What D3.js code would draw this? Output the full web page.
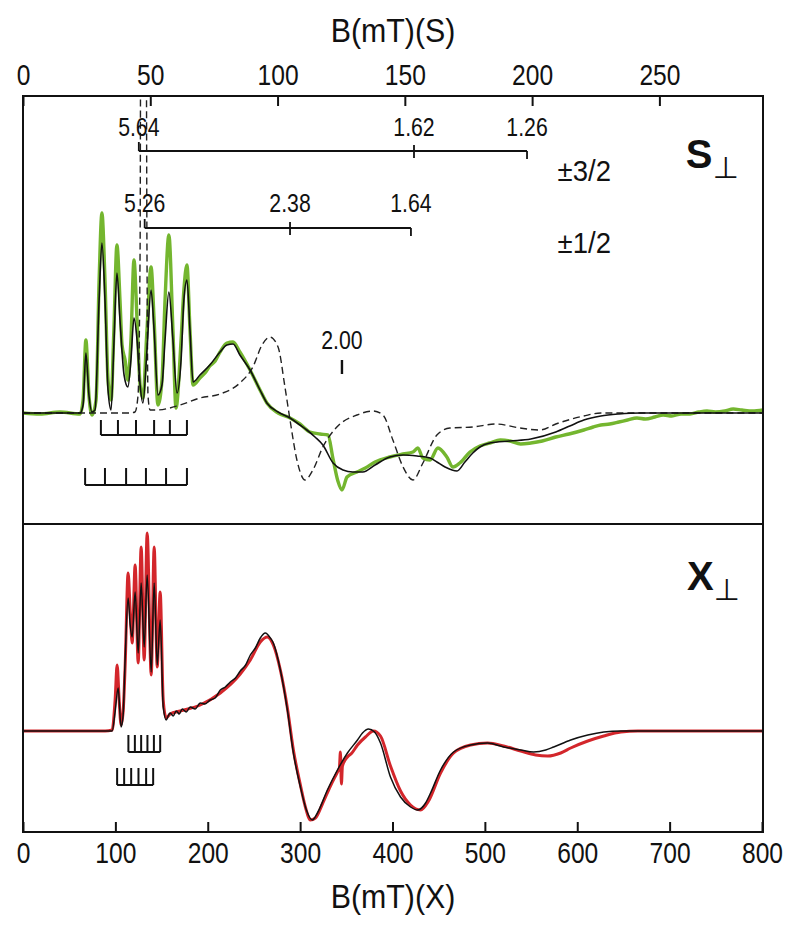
<!DOCTYPE html>
<html><head><meta charset="utf-8">
<script src="https://cdn.jsdelivr.net/npm/d3@7"></script>
<style>
body{margin:0;background:#fff}
svg text{font-family:"Liberation Sans",Arial,Helvetica,sans-serif;fill:#111}
</style></head><body>
<svg id="c" width="800" height="927"></svg>
<script>
// ---------- DATA ----------
// S-band (top panel): [B (mT, S-band scale), intensity (a.u.)]
const sTicks = [0, 50, 100, 150, 200, 250];
const xTicks = [0, 100, 200, 300, 400, 500, 600, 700, 800];

const sExp = [[0,0],[6.7,-1],[14.5,1],[22.4,-1],[23.6,13],[24.7,73],[25.9,18],[27.1,-2],[28.7,13],[29.9,133],[31.0,200],[32.2,133],[33.4,33],[34.6,13],[35.7,83],[36.9,168],[38.1,113],[38.9,68],[40.1,53],[41.2,33],[42.4,73],[43.6,153],[44.8,93],[46.0,28],[47.1,15],[48.7,83],[50.3,146],[51.5,93],[53.0,8],[54.6,33],[55.8,113],[57.3,178],[58.9,83],[60.1,5],[62.1,73],[63.2,123],[64.4,148],[65.6,83],[66.8,28],[69.5,35],[71.5,40],[73.4,47],[75.5,52],[77.4,61],[80.1,70],[82.5,71],[85.2,61],[89.2,43],[93.1,23],[95.8,10],[100.2,0],[104.9,-5],[108.8,-11],[112.7,-19],[116.7,-21],[119.8,-22],[121.8,-46],[123.7,-68],[125.3,-77],[127.3,-64],[131.2,-59],[134.5,-55],[138.3,-49],[144.1,-44],[149.3,-41],[153.2,-39],[155.1,-35],[157.1,-45],[159.9,-47],[163.0,-35],[166.5,-44],[168.9,-54],[171.6,-50],[175.6,-39],[179.5,-33],[183.4,-30],[187.5,-27],[191.3,-28],[195.5,-31],[199.5,-30],[204.0,-28],[209.3,-24],[214.5,-21],[220.3,-17],[224.0,-14],[227.0,-12],[230.5,-11],[234.1,-9],[237.5,-7],[241.2,-5],[244.5,-6],[248.2,-4],[251.5,-2],[254.9,-3],[258.5,-1],[262.0,-1],[265.5,1],[268.7,2],[272.0,1],[275.7,2],[279.0,4],[282.4,3],[286.5,2],[290.7,3]];

const sFit = [[0,0],[22.4,0],[23.6,8],[24.7,60],[25.9,18],[27.1,1],[28.3,3],[29.9,113],[31.0,170],[32.2,113],[33.4,23],[34.6,3],[35.7,68],[36.9,140],[38.1,93],[39.7,38],[41.2,26],[42.4,53],[43.6,95],[44.8,73],[46.0,28],[47.1,10],[48.7,63],[50.3,123],[51.5,83],[53.0,18],[54.6,28],[55.8,73],[57.3,121],[58.9,73],[60.5,20],[62.1,53],[63.2,113],[64.4,133],[65.6,83],[66.8,31],[69.5,38],[73.4,48],[77.4,61],[80.1,68],[82.5,69],[85.2,58],[89.2,43],[93.1,23],[95.8,10],[100.2,1],[104.9,-5],[108.8,-12],[111.5,-17],[114.7,-24],[117.8,-32],[121.8,-50],[125.7,-57],[129.6,-59],[133.5,-59],[138.3,-52],[144.1,-44],[149.3,-42],[154.8,-43],[159.9,-45],[162.6,-49],[165.8,-54],[170.5,-58],[173.6,-49],[176.7,-40],[179.5,-34],[183.4,-30],[191.3,-28],[199.5,-26],[209.3,-19],[214.8,-13],[220.3,-7],[227.0,-3],[234.1,-1],[242.3,0],[290.7,0]];

const sSim = [[0,0],[42.0,0],[44.0,1],[45.2,18],[46.0,163],[46.3,450],[48.3,450],[48.7,163],[49.1,18],[49.9,3],[52.6,3],[61.7,8],[69.5,15],[77.4,19],[85.2,30],[90.3,46],[93.9,68],[97.0,76],[100.2,66],[102.9,26],[104.9,-7],[107.6,-47],[110.8,-67],[113.9,-57],[117.8,-34],[123.3,-14],[131.2,-2],[137.5,2],[141.4,-2],[145.3,-27],[149.3,-54],[153.2,-67],[157.1,-50],[162.6,-22],[167.7,-15],[176.7,-14],[185.8,-11],[195.2,-15],[203.1,-17],[209.3,-11],[220.3,-3],[227.0,0],[290.7,0]];

// X-band (bottom panel): [B (mT), intensity (a.u.)]
const xExp = [[0,0],[88.9,0],[96.5,1],[99.7,31],[101.9,66],[104.1,31],[106.2,6],[108.4,19],[110.6,66],[113.8,158],[116.0,121],[118.2,88],[121.4,166],[124.7,68],[127.9,184],[131.2,71],[134.4,198],[138.8,56],[142.0,184],[145.3,64],[148.5,139],[151.8,31],[155.0,13],[159.3,17],[170.2,20],[191.9,26],[213.6,38],[235.2,57],[246.1,71],[256.9,89],[264.5,94],[271.0,86],[278.6,61],[286.2,23],[292.7,-19],[300.3,-54],[305.7,-76],[311.1,-89],[316.5,-87],[324.1,-73],[332.8,-55],[340.4,-41],[342.5,-37],[343.6,-21],[344.7,-53],[345.8,-35],[351.2,-26],[356.0,-22],[362.1,-14],[370.7,-6],[379.4,0],[387.0,-5],[397.8,-35],[408.7,-60],[419.5,-74],[430.4,-79],[439.0,-70],[452.0,-42],[466.1,-22],[484.6,-14],[502.9,-12],[520.3,-15],[538.8,-20],[555.0,-24],[568.0,-25],[582.1,-22],[592.9,-17],[611.4,-10],[628.7,-5],[647.2,-1],[665.6,0],[800,0]];

const xFit = [[0,0],[88.9,0],[96.5,0],[99.7,19],[103.0,43],[106.2,4],[108.4,16],[110.6,73],[113.8,133],[116.0,106],[118.2,94],[121.4,139],[124.7,78],[127.9,148],[131.2,84],[134.4,156],[138.8,59],[142.0,148],[145.3,66],[148.5,111],[151.8,24],[155.0,11],[157.2,15],[159.3,18],[162.6,15],[165.9,20],[169.1,17],[172.4,22],[176.7,19],[181.0,24],[186.4,22],[191.9,28],[197.0,27],[202.7,31],[208.0,33],[213.6,41],[219.0,44],[224.4,49],[230.0,53],[235.2,60],[241.0,66],[246.1,76],[251.5,83],[256.9,93],[262.3,98],[267.8,93],[271.0,88],[278.6,61],[286.2,21],[292.7,-22],[300.3,-56],[306.8,-79],[313.3,-89],[318.7,-82],[329.5,-59],[340.4,-39],[351.2,-22],[362.1,-9],[367.5,-2],[374.0,2],[380.5,-1],[387.0,-12],[397.8,-46],[408.7,-66],[419.5,-76],[427.1,-79],[435.8,-72],[441.2,-62],[452.0,-39],[466.1,-21],[484.6,-14],[502.9,-12],[520.3,-16],[538.8,-19],[552.8,-21],[565.9,-19],[574.5,-16],[592.9,-9],[611.4,-4],[628.7,-1],[647.2,0],[800,0]];

// g-value markers (S-band mT positions)
const g32Labels = ["5.64", "1.62", "1.26"];
const g32Pos = [45.5, 153.6, 198.0];
const g12Labels = ["5.26", "2.38", "1.64"];
const g12Pos = [47.8, 104.9, 152.4];
const g2Label = "2.00";
const g2Pos = 125.3;

// hyperfine stick combs
const sComb1 = [30.6, 37.3, 44.4, 51.5, 57.7, 64.4];
const sComb2 = [24.4, 32.2, 40.5, 48.3, 56.2, 64.4];
const xComb1 = [114.1, 121.1, 127.9, 134.7, 141.7, 148.5];
const xComb2 = [101.9, 109.5, 117.1, 125.0, 133.3, 140.9];

// ---------- LAYOUT ----------
const L = 23, R = 763, T = 96, MID = 524, B = 832;
const svg = d3.select("#c");

const xS = d3.scaleLinear().domain([0, 290.7]).range([L, R]);
const xX = d3.scaleLinear().domain([0, 800]).range([L, 762]);
const yS = d3.scaleLinear().domain([-111, 317]).range([MID, T]);
const yX = d3.scaleLinear().domain([-101, 207]).range([B, MID]);

const defs = svg.append("defs");
defs.append("clipPath").attr("id", "clipS").append("rect")
  .attr("x", L).attr("y", T).attr("width", R - L).attr("height", MID - T);
defs.append("clipPath").attr("id", "clipX").append("rect")
  .attr("x", L).attr("y", MID).attr("width", R - L).attr("height", B - MID);

const lineS = d3.line().x(d => xS(d[0])).y(d => yS(d[1])).curve(d3.curveMonotoneX);
const lineX = d3.line().x(d => xX(d[0])).y(d => yX(d[1])).curve(d3.curveMonotoneX);

// condensed text helper (scaled horizontally about its anchor)
function ctext(parent, x, y, str, size, sx, anchor) {
  const g = parent.append("g").attr("transform", `translate(${x},${y}) scale(${sx},1)`);
  return g.append("text").attr("text-anchor", anchor || "middle").attr("font-size", size).text(str);
}

// ---------- TOP PANEL CURVES ----------
const gS = svg.append("g").attr("clip-path", "url(#clipS)");
gS.append("path").datum(sExp).attr("d", lineS)
  .attr("fill", "none").attr("stroke", "#74b62f").attr("stroke-width", 3.4).attr("stroke-linejoin", "round");
gS.append("path").datum(sSim).attr("d", lineS)
  .attr("fill", "none").attr("stroke", "#222").attr("stroke-width", 1.4).attr("stroke-dasharray", "7,4");
gS.append("path").datum(sFit).attr("d", lineS)
  .attr("fill", "none").attr("stroke", "#111").attr("stroke-width", 1.6).attr("stroke-linejoin", "round");

// ---------- BOTTOM PANEL CURVES ----------
const gX = svg.append("g").attr("clip-path", "url(#clipX)");
gX.append("path").datum(xExp).attr("d", lineX)
  .attr("fill", "none").attr("stroke", "#d3262b").attr("stroke-width", 3).attr("stroke-linejoin", "round");
gX.append("path").datum(xFit).attr("d", lineX)
  .attr("fill", "none").attr("stroke", "#111").attr("stroke-width", 1.5).attr("stroke-linejoin", "round");

// ---------- COMBS ----------
function comb(g, xs, xsc, ysc, base, top) {
  g.append("line").attr("x1", xsc(xs[0])).attr("x2", xsc(xs[xs.length - 1]))
    .attr("y1", ysc(base)).attr("y2", ysc(base)).attr("stroke", "#111").attr("stroke-width", 2);
  g.selectAll(null).data(xs).enter().append("line")
    .attr("x1", d => xsc(d)).attr("x2", d => xsc(d))
    .attr("y1", ysc(base)).attr("y2", ysc(top)).attr("stroke", "#111").attr("stroke-width", 2);
}
const gc = svg.append("g");
comb(gc, sComb1, xS, yS, -22, -7);
comb(gc, sComb2, xS, yS, -72, -55);
comb(gc, xComb1, xX, yX, -21, -4);
comb(gc, xComb2, xX, yX, -54, -37);

// ---------- g-value bars ----------
const ga = svg.append("g").attr("stroke", "#111").attr("stroke-width", 1.8);
function gbar(pos, yv) {
  ga.append("line").attr("x1", xS(pos[0])).attr("x2", xS(pos[2]))
    .attr("y1", yS(yv)).attr("y2", yS(yv));
  ga.append("line").attr("x1", xS(pos[0])).attr("x2", xS(pos[0]))
    .attr("y1", yS(yv)).attr("y2", yS(yv + 9));
  ga.append("line").attr("x1", xS(pos[1])).attr("x2", xS(pos[1]))
    .attr("y1", yS(yv + 6)).attr("y2", yS(yv - 7));
  ga.append("line").attr("x1", xS(pos[2])).attr("x2", xS(pos[2]))
    .attr("y1", yS(yv)).attr("y2", yS(yv - 8));
}
gbar(g32Pos, 262);
gbar(g12Pos, 185);
ga.append("line").attr("x1", xS(g2Pos)).attr("x2", xS(g2Pos))
  .attr("y1", yS(53)).attr("y2", yS(39)).attr("stroke-width", 2.4);

const gt = svg.append("g");
g32Labels.forEach((d, i) => ctext(gt, xS(g32Pos[i]), yS(277), d, 25, 0.85));
g12Labels.forEach((d, i) => ctext(gt, xS(g12Pos[i]), yS(201), d, 25, 0.85));
ctext(gt, xS(g2Pos), yS(64), g2Label, 25, 0.85);
ctext(gt, xS(210), yS(232), "±3/2", 29, 0.95, "start");
ctext(gt, xS(210), yS(160), "±1/2", 29, 0.95, "start");

// panel labels
function panelLabel(x, y, letter) {
  const t = svg.append("text").attr("x", x).attr("y", y)
    .attr("font-size", 40).attr("font-weight", "bold");
  t.append("tspan").text(letter);
  t.append("tspan").attr("dy", 10).attr("font-size", 30).attr("font-weight", "normal")
    .attr("font-family", "DejaVu Sans").text("⊥");
}
panelLabel(xS(260.4), yS(245), "S");
panelLabel(xX(718.7), yX(141), "X");

// ---------- AXES ----------
const axT = svg.append("g").attr("transform", `translate(0,${T})`)
  .call(d3.axisTop(xS).tickValues(sTicks).tickFormat(d3.format("d"))
    .tickSizeInner(-10).tickSizeOuter(0).tickPadding(11));
const axB = svg.append("g").attr("transform", `translate(0,${B})`)
  .call(d3.axisBottom(xX).tickValues(xTicks).tickFormat(d3.format("d"))
    .tickSizeInner(-10).tickSizeOuter(0).tickPadding(10));
[axT, axB].forEach(a => {
  a.select(".domain").remove();
  a.selectAll(".tick line").attr("stroke", "#111").attr("stroke-width", 2);
  a.selectAll(".tick text").attr("font-size", 30)
    .attr("font-family", "Liberation Sans, Arial, sans-serif")
    .attr("transform", "scale(0.82,1)")
    .attr("fill", "#111");
});

// frame
const fr = svg.append("g").attr("stroke", "#111").attr("stroke-width", 2).attr("fill", "none");
fr.append("rect").attr("x", L).attr("y", T).attr("width", R - L).attr("height", B - T);
fr.append("line").attr("x1", L).attr("x2", R).attr("y1", MID).attr("y2", MID);

// axis titles
ctext(svg, (L + R) / 2, 42, "B(mT)(S)", 33, 0.92);
ctext(svg, (L + R) / 2, 908, "B(mT)(X)", 33, 0.92);
</script>
</body></html>
